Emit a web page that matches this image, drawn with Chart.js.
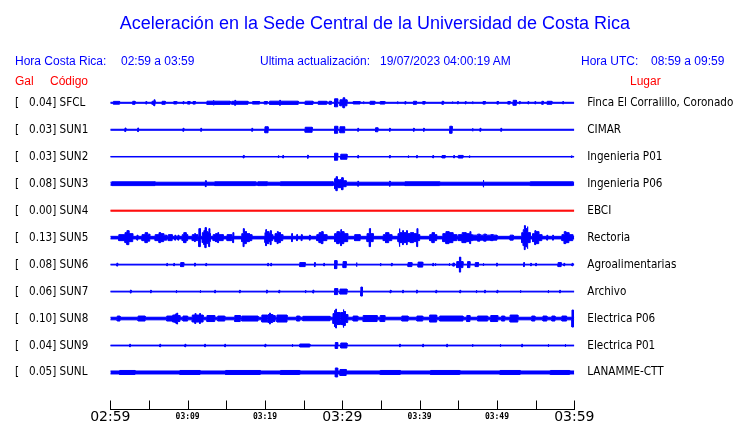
<!DOCTYPE html>
<html lang="es">
<head>
<meta charset="UTF-8">
<title>Aceleración en la Sede Central de la Universidad de Costa Rica</title>
<script src="https://cdn.jsdelivr.net/npm/chart.js"></script>
<style>
  body { margin: 0; background: #fff; }
  #hoja { position: relative; width: 740px; height: 423px; overflow: hidden;
          font-family: "Liberation Sans", Arial, sans-serif; }
  #hoja canvas { position: absolute; left: 0; top: 0; }
  .t { position: absolute; white-space: pre; font-size: 12px; line-height: 12px; color: #0000ff; }
  .r { color: #ff0000; }
  #titulo { position: absolute; left: 0; width: 750px; top: 14px; text-align: center;
            font-size: 18px; line-height: 18px; color: #0000ff; }
</style>
</head>
<body>
<div id="hoja">
  <canvas id="sismo" width="740" height="423"></canvas>
  <div id="titulo">Aceleración en la Sede Central de la Universidad de Costa Rica</div>
  <div class="t" style="left:15px; top:55px">Hora Costa Rica:</div>
  <div class="t" style="left:121px; top:55px">02:59 a 03:59</div>
  <div class="t" style="left:260px; top:55px">Ultima actualización:</div>
  <div class="t" style="left:380px; top:55px">19/07/2023 04:00:19 AM</div>
  <div class="t" style="left:581px; top:55px">Hora UTC:</div>
  <div class="t" style="left:651px; top:55px">08:59 a 09:59</div>
  <div class="t r" style="left:15px; top:75px">Gal</div>
  <div class="t r" style="left:50px; top:75px">Código</div>
  <div class="t r" style="left:630px; top:75px">Lugar</div>
</div>

<script>
// estaciones, de arriba hacia abajo
const codigos = ['SFCL', 'SUN1', 'SUN2', 'SUN3', 'SUN4', 'SUN5', 'SUN6', 'SUN7', 'SUN8', 'SUN9', 'SUNL'];
const gal = ['0.04', '0.03', '0.03', '0.08', '0.00', '0.13', '0.08', '0.06', '0.10', '0.04', '0.05'];
const lugares = ['Finca El Corralillo, Coronado', 'CIMAR', 'Ingenieria P01', 'Ingenieria P06', 'EBCI',
  'Rectoria', 'Agroalimentarias', 'Archivo', 'Electrica P06', 'Electrica P01', 'LANAMME-CTT'];
// etiquetas cada 10 minutos a partir de 02:59
const horas = ['02:59', '03:09', '03:19', '03:29', '03:39', '03:49', '03:59'];

// ruido de fondo de cada traza (amplitud, en cuentas)
const ruido = [0.5, 0.5, 0.25, 1.5, 0.5, 1.3, 0.4, 0.4, 1.3, 0.4, 1.5];

const SFCL = [[0.4,1.2,1.4],[2.9,3.2,1.5],[4.6,4.7,1.3],[5.4,5.8,1.5],[5.65,5.75,3],[6.7,7.1,1.5],[8.2,8.6,1.2],
  [9.4,9.5,1.2],[10.0,10.3,1.3],[10.7,11.0,1.3],[12.5,15.5,1.6],[13.3,13.4,2.5],[15.7,17.8,1.5],[16.1,16.2,2.5],
  [18.4,19.3,1.3],[19.9,20.3,1.3],[20.6,24.3,1.6],[21.9,22.0,2.5],[25.2,26.2,1.6],[26.9,28.0,1.5],[28.3,28.6,1.5],
  [29.0,29.4,4],[29.7,30.6,3],[30.1,30.3,5],[31.4,32.3,1.2],[32.7,32.8,1.3],[33.6,34.2,1.5],[34.9,35.5,1.3],
  [37.1,37.2,1.3],[38.1,38.2,1.3],[39.2,39.6,1.5],[40.4,40.7,1.3],[42.9,43.1,1.5],[44.2,44.3,1.2],[44.9,45.0,1.2],
  [45.9,46.0,1.2],[46.8,46.9,1.3],[48.2,48.5,1.3],[50.0,50.2,1.3],[51.4,51.7,1.3],[52.1,52.5,2.5],[52.9,53.0,1.2],
  [54.0,54.1,1.2],[54.9,55.0,1.2],[55.8,56.0,1.5],[56.5,57.1,1.5],[58.5,58.6,1.2]];
const SUN1 = [[1.9,2.0,1.8],[3.55,3.65,1.8],[9.4,9.5,1.5],[11.7,11.8,1.5],[18.3,18.4,1.5],[20.0,20.4,3],
  [25.2,26.1,2.5],[29.0,29.4,3.5],[29.7,30.3,3],[32.0,32.1,1.5],[34.3,34.6,2],[36.1,36.2,1.5],[39.2,39.3,1.5],
  [40.5,40.6,1.5],[43.9,44.2,3.5],[46.8,46.9,1.5],[47.8,47.9,1.5],[50.5,50.6,1.5]];
const SUN2 = [[17.2,17.3,1.3],[21.7,21.8,1.3],[22.3,22.4,1.3],[25.5,25.6,1.5],[29.0,29.4,3.5],[29.8,30.6,2.5],
  [32.0,32.1,1.3],[36.1,36.2,1.2],[38.5,38.6,1.2],[39.6,39.7,1.2],[41.7,41.8,1.2],[42.9,43.3,1.2],[44.4,44.5,1.2],
  [45.0,45.6,1.3],[46.4,46.5,1.2],[59.6,59.7,1.2]];
const SUN3 = [[0.2,5.8,1.9],[12.3,12.4,3],[13.5,18.8,1.9],[19.1,20.3,1.9],[22.0,28.8,1.9],[29.0,29.2,5],
  [29.2,29.35,7],[29.35,29.6,4],[29.7,29.9,4],[29.9,30.1,6],[30.1,30.5,3],[32.0,32.1,2.5],[36.1,36.2,2.5],
  [38.1,42.6,1.9],[48.2,48.3,3.5],[54.3,59.8,1.9]];
const SUN4 = [];
const SUN5 = [[1.1,1.9,3],[1.9,2.15,5],[2.15,2.4,7],[2.4,2.9,4],[3.45,3.55,2.5],[4.1,4.5,3],[4.5,4.8,5],
  [4.8,5.1,3.5],[5.8,6.3,3],[6.3,6.5,5],[6.5,6.9,4],[6.9,7.3,2.5],[7.5,8.0,3],[8.35,8.45,2.5],[8.75,8.85,2.5],
  [9.3,9.5,3],[9.5,9.8,5],[9.8,10.0,3],[10.6,11.3,3],[10.9,11.0,4],[11.45,11.65,9],[11.9,12.1,5],[12.1,12.25,7],
  [12.25,12.4,10],[12.4,12.6,6],[12.6,12.75,5],[12.75,12.85,9],[12.85,12.95,4],[13.3,13.6,3],[13.6,13.9,4],
  [13.9,14.0,5],[14.0,14.6,3],[15.1,15.7,3],[15.85,15.95,5],[17.0,17.2,4],[17.2,17.3,9],[17.3,17.6,6],
  [17.6,18.0,4],[18.0,18.3,3],[20.0,20.1,5],[20.1,20.2,8],[20.2,20.5,6],[20.5,20.7,4],[20.7,20.8,7],[20.8,21.0,3],
  [21.3,21.6,4],[21.6,21.7,6],[21.7,22.0,5],[22.0,22.3,3],[23.45,23.55,4],[24.1,24.2,3],[24.7,24.8,3],
  [25.75,25.85,2.5],[26.7,27.0,3],[27.0,27.3,5],[27.3,27.5,6],[27.5,28.0,3],[29.0,29.3,4],[29.3,29.6,6],
  [29.6,29.8,5],[29.8,29.9,8],[29.9,30.2,6],[30.2,30.7,4],[31.6,32.3,3],[33.2,33.5,4],[33.5,33.65,9],
  [33.65,34.0,4],[35.3,35.6,3],[35.6,36.0,5],[36.0,36.4,3],[37.2,37.35,4],[37.35,37.45,9],[37.45,37.8,5],
  [37.8,37.9,7],[37.9,38.3,5],[38.3,38.4,7],[38.4,38.8,4],[38.8,39.2,5],[39.2,39.65,4],[39.65,39.75,9],
  [39.75,40.0,3],[41.3,41.6,3],[41.6,41.9,5],[41.9,42.2,3],[43.0,43.4,4],[43.4,43.8,6],[43.8,44.3,5],
  [44.3,44.8,3],[45.0,45.5,3],[45.5,46.0,5],[46.0,46.5,4],[46.5,46.6,6],[46.6,46.8,3],[46.9,50.0,2.5],
  [47.5,47.8,3.5],[48.3,48.6,3.5],[49.2,49.5,3],[51.7,52.1,2.5],[53.2,53.4,5],[53.4,53.55,8],[53.55,53.65,12],
  [53.65,53.9,9],[53.9,54.0,11],[54.0,54.3,5],[54.6,54.9,4],[54.9,55.0,7],[55.0,55.4,6],[55.4,55.8,3],
  [56.45,56.55,2.5],[57.2,57.3,2.5],[58.4,58.7,3],[58.7,58.9,6],[58.9,59.3,5],[59.3,59.8,3]];
const SUN6 = [[0.85,0.95,1.5],[7.3,7.4,1.2],[8.2,8.3,1.2],[9.1,9.5,2],[10.9,11.0,1.5],[12.35,12.45,1.2],
  [20.35,20.45,1.3],[20.75,20.85,1.3],[24.5,25.2,2],[26.4,26.5,2],[27.6,27.7,1.3],[29.0,29.3,4],[30.1,30.5,3],
  [31.8,31.9,2],[34.9,35.0,1.5],[36.35,36.45,1.3],[38.5,39.0,2],[39.8,40.4,2.5],[41.7,41.8,1.3],[42.0,42.1,1.3],
  [43.8,43.9,1.3],[44.3,44.5,1.5],[44.8,45.6,3],[45.15,45.3,7.5],[46.2,46.5,3],[47.2,47.6,2],[48.2,48.3,1.3],
  [49.95,50.05,1.5],[53.45,53.55,2],[54.35,54.45,1.3],[55.0,55.1,1.3],[57.9,58.3,2],[58.65,58.75,1.3],
  [59.7,59.8,1.3]];
const SUN7 = [[2.6,2.7,1.5],[5.2,5.3,1.3],[8.5,8.6,1.5],[11.6,11.7,1.3],[13.5,13.6,1.3],[16.7,16.8,1.3],
  [20.2,20.3,1.5],[21.8,21.9,1.3],[25.2,25.3,1.5],[26.2,26.3,1.5],[29.0,29.4,3],[29.7,30.6,2.5],
  [32.4,32.6,4.5],[36.2,36.3,1.3],[37.8,37.9,1.3],[39.6,39.7,1.5],[42.1,42.2,1.3],[45.2,45.3,1.3],[47.3,47.4,1.5],
  [48.4,48.5,1.3],[50.0,50.1,1.3],[53.0,53.1,1.3],[56.6,56.7,1.5],[58.1,58.2,1.3]];
const SUN8 = [[0.9,1.25,2.5],[3.6,4.5,2.5],[7.3,8.0,2.5],[8.1,8.4,3.5],[8.4,8.6,4.5],[8.6,8.7,5.5],[8.7,9.0,3],
  [9.4,10.0,2.5],[10.6,12.0,3.5],[10.95,11.05,5],[11.55,11.65,5],[12.5,13.5,3],[13.9,14.8,2.5],[16.1,16.8,3],
  [17.0,19.1,2.5],[19.6,20.3,3.5],[20.4,20.6,4],[20.6,20.7,5.5],[20.7,21.0,4],[21.0,21.3,3],[21.55,22.85,3.5],
  [24.1,24.5,2.5],[24.9,28.4,2.2],[28.8,29.0,5],[29.0,29.15,8],[29.15,29.25,9.5],[29.25,29.7,6],[29.8,30.1,6],
  [30.1,30.2,9],[30.2,30.4,7],[30.4,30.7,4],[31.4,32.0,2.5],[32.7,34.5,3],[34.9,35.5,3],[37.7,38.5,2.5],
  [39.65,40.4,2.5],[41.3,42.2,3.5],[42.6,45.6,2.5],[46.1,46.5,3],[47.5,48.8,2.5],[49.2,50.1,3],[50.6,51.0,2.5],
  [51.7,52.7,3.5],[54.5,54.9,2.5],[55.95,56.45,2.5],[57.1,57.5,2.5],[58.4,59.0,2.5],[59.7,59.9,8.5]];
const SUN9 = [[2.5,2.6,1.3],[6.4,6.5,1.3],[9.65,9.75,1.3],[12.2,12.3,1.3],[14.8,14.9,1.3],[20.0,20.1,1.3],
  [23.5,23.6,1.3],[24.5,25.8,1.5],[29.1,29.4,3],[29.8,30.6,2.5],[37.4,37.5,1.3],[40.4,40.5,1.3],[43.5,43.6,1.3],
  [46.8,46.9,1.3],[50.4,50.5,1.3],[53.2,53.3,1.3],[56.6,56.7,1.3],[58.8,58.9,1.3]];
const SUNL = [[1.2,3.2,2],[9.0,11.6,2],[14.9,19.4,2],[22.0,24.5,2],[29.1,29.4,4.5],[29.7,30.5,3],[34.9,37.5,2],
  [41.4,45.2,2],[50.4,53.0,2],[56.9,59.4,2]];
const trazas = [SFCL, SUN1, SUN2, SUN3, SUN4, SUN5, SUN6, SUN7, SUN8, SUN9, SUNL];

const CUENTAS_POR_FILA = 26.97;

// contorno escalonado de una traza a partir de sus eventos
function envolvente(eventos, fondo) {
  const cortes = [0, 60];
  eventos.forEach(e => cortes.push(e[0], e[1]));
  const u = [...new Set(cortes)].sort((a, b) => a - b);
  const pts = [];
  for (let k = 0; k < u.length - 1; k++) {
    const m = (u[k] + u[k + 1]) / 2;
    let a = fondo;
    eventos.forEach(e => { if (e[0] <= m && m < e[1]) a = Math.max(a, e[2]); });
    pts.push([u[k], a], [u[k + 1], a]);
  }
  return pts;
}

const datasets = [];
trazas.forEach((tr, i) => {
  const env = envolvente(tr, ruido[i]);
  const color = codigos[i] === 'SUN4' ? '#ff0000' : '#0000ff';
  const base = { borderColor: color, backgroundColor: color, borderWidth: 1, pointRadius: 0, tension: 0 };
  datasets.push(Object.assign({}, base, { data: env.map(p => ({ x: p[0], y: i - p[1] / CUENTAS_POR_FILA })), fill: false }));
  datasets.push(Object.assign({}, base, { data: env.map(p => ({ x: p[0], y: i + p[1] / CUENTAS_POR_FILA })), fill: '-1' }));
});

const fuenteEtiq = { family: "'DejaVu Sans Condensed', 'DejaVu Sans'", size: 11.6 };

// los ejes verticales solo llevan una etiqueta por estacion, sin relleno extra
function filasEje(s) { s.ticks = codigos.map((_, i) => ({ value: i })); }
function sinRelleno(s) { s.paddingTop = 0; s.paddingBottom = 0; }

// linea base y marcas del eje de tiempo, hacia arriba
const marcasTiempo = {
  id: 'marcasTiempo',
  afterDraw(chart) {
    const x = chart.scales.x, ctx = chart.ctx;
    const y0 = Math.round(chart.chartArea.bottom) + 0.5;
    ctx.save();
    ctx.strokeStyle = '#000';
    ctx.lineWidth = 1;
    ctx.beginPath();
    ctx.moveTo(Math.round(x.left), y0);
    ctx.lineTo(Math.round(x.right) + 1, y0);
    x.ticks.forEach(t => {
      const px = Math.round(x.getPixelForValue(t.value)) + 0.5;
      ctx.moveTo(px, y0);
      ctx.lineTo(px, y0 - 9);
    });
    ctx.stroke();
    ctx.restore();
  }
};

new Chart(document.getElementById('sismo'), {
  type: 'line',
  data: { datasets },
  plugins: [marcasTiempo],
  options: {
    responsive: false,
    animation: false,
    events: [],
    layout: { padding: { left: 15, right: 0, top: 89.3, bottom: 0 } },
    plugins: { legend: { display: false }, tooltip: { enabled: false } },
    scales: {
      x: {
        type: 'linear', min: 0, max: 60,
        afterFit: s => { s.height = 14; },
        ticks: {
          stepSize: 5, autoSkip: false, maxRotation: 0, padding: 0, color: '#000',
          callback: v => (v % 10 === 0 ? horas[v / 10] : ''),
          font: c => (c.tick && c.tick.value % 30 === 0)
            ? { family: 'DejaVu Sans', size: 14, lineHeight: 1.15 }
            : { family: 'DejaVu Sans Mono', size: 8, weight: 'bold', lineHeight: 1.9 }
        },
        grid: { display: true, drawOnChartArea: false, drawTicks: false, tickLength: 0 },
        border: { display: false }
      },
      y: {
        type: 'linear', reverse: true, min: -0.5, max: 11.354, position: 'left',
        afterFit: s => { s.width = 95.3; sinRelleno(s); },
        afterBuildTicks: filasEje,
        ticks: { autoSkip: false, crossAlign: 'far', padding: 0, color: '#000', font: fuenteEtiq,
          callback: v => '[   ' + gal[v] + '] ' + codigos[v] },
        grid: { display: false, drawTicks: false }, border: { display: false }
      },
      y2: {
        type: 'linear', reverse: true, min: -0.5, max: 11.354, position: 'right',
        afterFit: s => { s.width = 165.7; sinRelleno(s); },
        afterBuildTicks: filasEje,
        ticks: { autoSkip: false, padding: 13, color: '#000', font: fuenteEtiq,
          callback: v => lugares[v] },
        grid: { display: false, drawTicks: false }, border: { display: false }
      }
    }
  }
});
</script>
</body>
</html>
